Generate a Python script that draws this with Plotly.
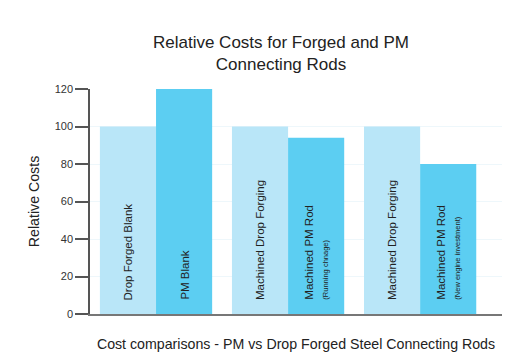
import plotly.graph_objects as go

categories = ["Blank", "Machined", "Machined (new investment)"]
forged_values = [100, 100, 100]
pm_values = [120, 94, 80]
forged_labels = ["Drop Forged Blank", "Machined Drop Forging", "Machined Drop Forging"]
pm_labels = ["PM Blank", "Machined PM Rod", "Machined PM Rod"]
pm_sublabels = ["", "(Running chnage)", "(New engine investment)"]
y_ticks = [0, 20, 40, 60, 80, 100, 120]

LIGHT = "rgb(185,230,248)"
DARK = "rgb(92,206,242)"
FONT = "Liberation Sans, Arial, sans-serif"
BARGAP = 0.15

# page body has an 8px default margin; the figure is sized to fill the rest of the window
W, H = 506, 349

fig = go.Figure()
fig.add_trace(go.Bar(x=list(range(len(categories))), y=forged_values, name="Drop Forged",
                     marker=dict(color=LIGHT, line=dict(width=0)), hoverinfo="y"))
fig.add_trace(go.Bar(x=list(range(len(categories))), y=pm_values, name="PM",
                     marker=dict(color=DARK, line=dict(width=0)), hoverinfo="y"))

half = (1 - BARGAP) / 4
for i in range(len(categories)):
    fig.add_annotation(x=i - half, y=0, xref="x", yref="y", text=forged_labels[i],
                       textangle=-90, showarrow=False, xanchor="center", yanchor="bottom",
                       yshift=12, align="left", font=dict(family=FONT, size=11.5, color="#222"))
    txt = pm_labels[i]
    if pm_sublabels[i]:
        txt += "<br><span style='font-size:7.5px'>" + pm_sublabels[i] + "</span>"
    fig.add_annotation(x=i + half, y=0, xref="x", yref="y", text=txt,
                       textangle=-90, showarrow=False, xanchor="center", yanchor="bottom",
                       yshift=12, align="left", font=dict(family=FONT, size=11.5, color="#222"))

fig.update_layout(
    width=W, height=H,
    paper_bgcolor="white", plot_bgcolor="white",
    margin=dict(l=82, r=12, t=81, b=43, autoexpand=False),
    barmode="group", bargap=BARGAP, bargroupgap=0,
    showlegend=False,
    font=dict(family=FONT, color="#333"),
    title=dict(text="Relative Costs for Forged and PM<br>Connecting Rods",
               x=273 / W, xref="container", xanchor="center",
               y=1 - 40 / H, yref="container", yanchor="top",
               font=dict(family=FONT, size=17, color="#222")),
    xaxis=dict(range=[-0.5, 2.62], showticklabels=False, ticks="", showgrid=False,
               showline=True, linecolor="#777", linewidth=1.5, zeroline=False, automargin=False,
               title=dict(text="Cost comparisons - PM vs Drop Forged Steel Connecting Rods",
                          font=dict(family=FONT, size=14.2, color="#222"), standoff=24)),
    yaxis=dict(range=[0, 120], tickvals=y_ticks, ticks="outside", ticklen=13,
               tickcolor="#555", tickwidth=1.5, showline=True, linecolor="#555", linewidth=1.5,
               showgrid=True, gridcolor="#eef7fb", gridwidth=1, zeroline=False, automargin=False,
               tickfont=dict(family=FONT, size=11, color="#333"),
               title=dict(text="Relative Costs", font=dict(family=FONT, size=14.2, color="#222"),
                          standoff=12)),
)

fig.write_html("out.html")
